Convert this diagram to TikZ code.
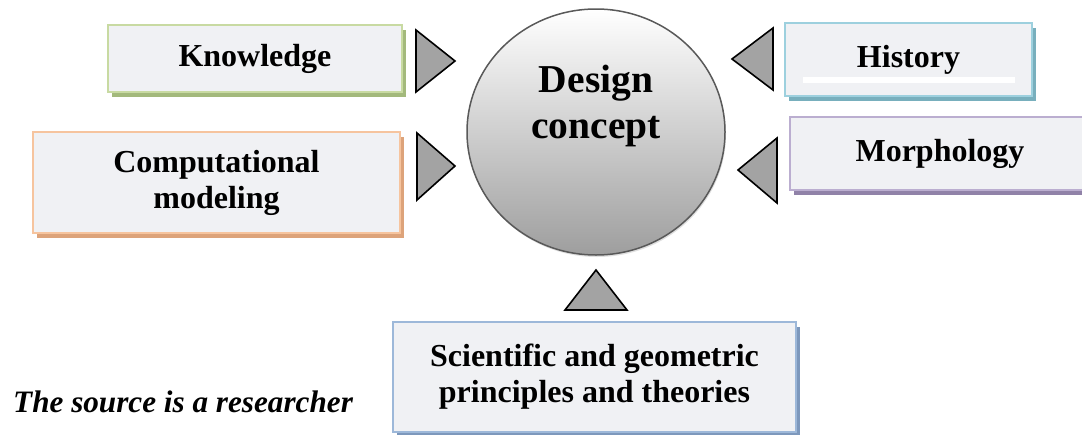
\documentclass[tikz,border=0pt]{standalone}
\usepackage{fontspec}
\setmainfont{Liberation Serif}
\usetikzlibrary{shapes.geometric,shadows}
\definecolor{boxfill}{HTML}{F0F1F4}
\definecolor{kbord}{HTML}{C8DAA2}
\definecolor{kshad}{HTML}{A3B97C}
\definecolor{cbord}{HTML}{F6C49E}
\definecolor{cshad}{HTML}{DDA37A}
\definecolor{hbord}{HTML}{9DD0DE}
\definecolor{hshad}{HTML}{78AFBD}
\definecolor{mbord}{HTML}{BBAED0}
\definecolor{mshad}{HTML}{9082A8}
\definecolor{sbord}{HTML}{9DB8D9}
\definecolor{sshad}{HTML}{7D98BC}
\definecolor{trifill}{HTML}{A3A3A3}
\tikzset{
  infobox/.style={draw=#1, line width=1.8pt, fill=boxfill, inner sep=0pt,
    align=center, font=\fontsize{32}{36}\selectfont\bfseries},
  boxshadow/.style={fill=#1, draw=none},
  pointer/.style={fill=trifill, draw=black, line width=1.6pt, line join=miter},
}
\begin{document}
\begin{tikzpicture}[x=1pt,y=-1pt]
\useasboundingbox (0,0) rectangle (1082,434);
\clip (0,0) rectangle (1082,434);
\fill[white] (0,0) rectangle (1082,434);

% shadows
\fill[boxshadow=kshad] (112,30) rectangle (406,97);
\fill[boxshadow=cshad] (37,137) rectangle (404,238);
\fill[boxshadow=hshad] (789,28) rectangle (1036,101);
\fill[boxshadow=mshad] (794,122) rectangle (1094,195);
\fill[boxshadow=sshad] (397,327) rectangle (800,440);

% boxes
\node[infobox=kbord, minimum width=294pt, minimum height=67pt] (know) at (255,58.5) {Knowledge};
\node[infobox=cbord, minimum width=367pt, minimum height=101pt] (comp) at (216.5,182.5) {Computational\\modeling};
\node[infobox=hbord, minimum width=247pt, minimum height=73pt] (hist) at (908.5,59.5) {History};
\fill[white] (803,77) rectangle (1015,83);
\node[infobox=mbord, minimum width=300pt, minimum height=73pt] (morph) at (940,153.5) {Morphology};
\node[infobox=sbord, minimum width=403pt, minimum height=110pt] (sci) at (594.5,377) {Scientific and geometric\\principles and theories};

% central circle
\node[ellipse, minimum width=258pt, minimum height=246pt, inner sep=0pt,
  draw=black!65, line width=1.5pt, top color=white, bottom color=black!38,
  drop shadow={shadow xshift=1pt, shadow yshift=-2pt, opacity=0.25}] (dc) at (596,132) {};
\node[align=center, font=\fontsize{39.5}{46}\selectfont\bfseries] (dct) at (596,106) {Design\\concept};

% pointers
\filldraw[pointer] (416,30) -- (416,92) -- (455,61) -- cycle;
\filldraw[pointer] (417,133) -- (417,200) -- (455,166) -- cycle;
\filldraw[pointer] (773,28) -- (773,90) -- (732,59) -- cycle;
\filldraw[pointer] (777,138) -- (777,203) -- (738,170) -- cycle;
\filldraw[pointer] (565,310) -- (627,310) -- (596,270) -- cycle;

% source
\node[anchor=west, inner sep=0pt, font=\fontsize{31.2}{36}\selectfont\bfseries\itshape] (src) at (13,402) {The source is a researcher};
\end{tikzpicture}
\end{document}
